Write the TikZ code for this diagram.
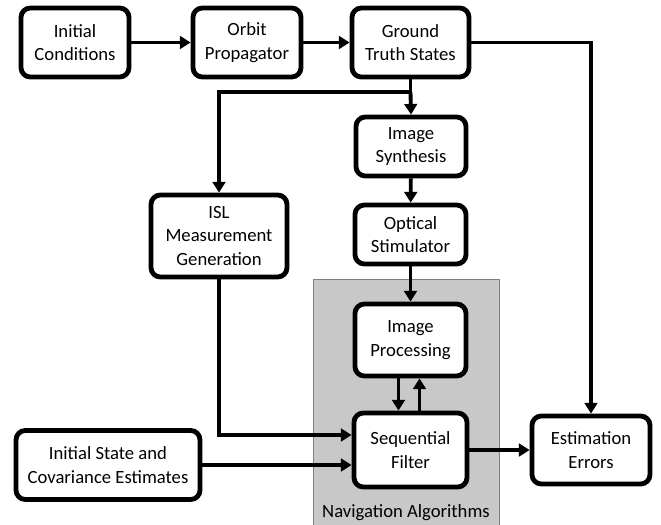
\documentclass[tikz,border=0pt]{standalone}
\usepackage{fontspec}
\setmainfont{Carlito}
\usepackage{xcolor}
\usepackage{tikz}
\usetikzlibrary{arrows.meta,calc}

\definecolor{navgray}{RGB}{200,200,200}
\definecolor{navedge}{RGB}{125,125,125}

\tikzset{
  blk/.style={draw, line width=3.6pt, rounded corners=7pt, fill=white, align=center,
    inner sep=2pt, font=\fontsize{14}{17.5}\selectfont},
  flow/.style={line width=2.9pt, -{Triangle[length=8pt,width=9.5pt]}},
  wire/.style={line width=2.9pt},
}

\begin{document}
\begin{tikzpicture}[x=0.75pt,y=0.75pt,yscale=-1,xscale=1]
        \useasboundingbox (0,0) rectangle (661,525);

        \draw [fill=navgray, draw=navedge, line width=0.6pt]  (313,279) rectangle (499,527) ;
        \node (navlabel) at (406,513) [font=\fontsize{14}{17}\selectfont] {Navigation Algorithms};

        \node (init)   at (75,42.5)    [blk, minimum width=81pt, minimum height=51.75pt] {Initial\\Conditions};
        \node (orbit)  at (247,42.5)   [blk, minimum width=81pt, minimum height=51.75pt] {Orbit\\Propagator};
        \node (truth)  at (410.5,42.5) [blk, minimum width=87.75pt, minimum height=51.75pt] {Ground\\Truth States};

        \node (synth)  at (411,146.5)  [blk, minimum width=82.5pt, minimum height=44.25pt] {Image\\Synthesis};
        \node (isl)    at (219,236)    [blk, minimum width=102pt, minimum height=61.5pt] {ISL\\Measurement\\Generation};
        \node (optic)  at (410.5,234.5) [blk, minimum width=83.25pt, minimum height=44.25pt] {Optical\\Stimulator};
        \node (improc) at (410.5,340)  [blk, minimum width=83.25pt, minimum height=54pt] {Image\\Processing};
        \node (filter) at (410.5,450)  [blk, minimum width=84.75pt, minimum height=55.5pt] {Sequential\\Filter};
        \node (instate) at (108,465)   [blk, minimum width=138pt, minimum height=51.75pt] {Initial State and\\Covariance Estimates};
        \node (esterr) at (591,450)    [blk, minimum width=88.5pt, minimum height=51pt] {Estimation\\Errors};

        \coordinate (split) at (410.5,92);

        \draw [flow] (init) -- (orbit) ;
        \draw [flow] (orbit) -- (truth) ;
        \draw [flow] (truth.east) -| (esterr.north) ;
        \draw [wire] (truth.south) -- (split) ;
        \draw [flow] (split) -- (synth.north) ;
        \draw [flow] (split) -| (isl.north) ;
        \draw [flow] (synth) -- (optic) ;
        \draw [flow] (optic) -- (improc) ;
        \draw [flow] ($(improc.south)+(-12,0)$) -- ($(filter.north)+(-12,0)$) ;
        \draw [flow] ($(filter.north)+(9,0)$) -- ($(improc.south)+(9,0)$) ;
        \draw [flow] (isl.south) |- ($(filter.west)+(0,-15)$) ;
        \draw [flow] (instate.east) -- ($(filter.west)+(0,15)$) ;
        \draw [flow] (filter) -- (esterr) ;

\end{tikzpicture}
\end{document}
